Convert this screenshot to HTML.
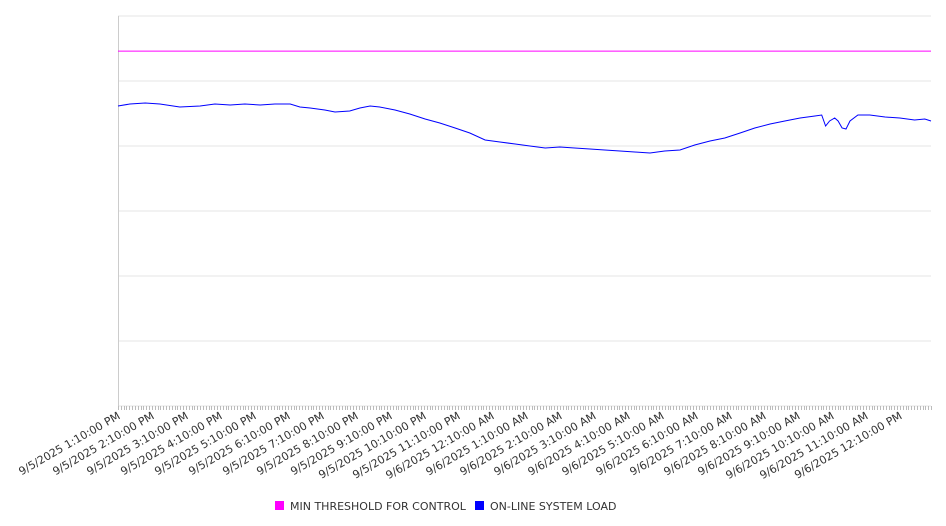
<!DOCTYPE html>
<html><head><meta charset="utf-8"><style>
body{margin:0;background:#fff;}
svg{display:block;font-family:"DejaVu Sans","Liberation Sans",sans-serif;}
</style></head><body>
<svg id="chart" width="946" height="526" xmlns="http://www.w3.org/2000/svg">
<g id="grid"></g>
<g id="xaxis"></g>
<g id="series"></g>
<g id="legend">
  <rect x="275" y="501" width="9" height="9" fill="#ff00ff"/>
  <text x="290" y="510" font-size="11" fill="#333">MIN THRESHOLD FOR CONTROL</text>
  <rect x="475" y="501" width="9" height="9" fill="#0000ff"/>
  <text x="490" y="510" font-size="11" fill="#333">ON-LINE SYSTEM LOAD</text>
</g>
</svg>
<script>
const tickLabels = ["9/5/2025 1:10:00 PM","9/5/2025 2:10:00 PM","9/5/2025 3:10:00 PM","9/5/2025 4:10:00 PM","9/5/2025 5:10:00 PM","9/5/2025 6:10:00 PM","9/5/2025 7:10:00 PM","9/5/2025 8:10:00 PM","9/5/2025 9:10:00 PM","9/5/2025 10:10:00 PM","9/5/2025 11:10:00 PM","9/6/2025 12:10:00 AM","9/6/2025 1:10:00 AM","9/6/2025 2:10:00 AM","9/6/2025 3:10:00 AM","9/6/2025 4:10:00 AM","9/6/2025 5:10:00 AM","9/6/2025 6:10:00 AM","9/6/2025 7:10:00 AM","9/6/2025 8:10:00 AM","9/6/2025 9:10:00 AM","9/6/2025 10:10:00 AM","9/6/2025 11:10:00 AM","9/6/2025 12:10:00 PM"];
const loadMinutes = [0,21,48,74,109,145,171,198,224,251,277,304,321,339,365,383,409,427,445,462,489,515,542,568,595,621,648,674,701,727,754,780,806,833,859,886,912,939,965,992,1018,1045,1071,1098,1124,1151,1177,1204,1230,1242,1249,1256,1265,1271,1278,1285,1292,1306,1327,1354,1380,1406,1424,1435];
const loadValues = [461.5,464.6,466.2,464.6,460,461.5,464.6,463.1,464.6,463.1,464.6,464.6,460,458.5,455.4,452.3,453.8,458.5,461.5,460,455.4,449.2,441.5,435.4,427.7,420,409.2,406.2,403.1,400,396.9,398.5,396.9,395.4,393.8,392.3,390.8,389.2,392.3,393.8,401.5,407.7,412.3,420,427.7,433.8,438.5,443.1,446.2,447.7,430.8,438.5,443.1,438.5,427.7,426.2,438.5,447.7,447.7,444.6,443.1,440,441.5,438.5];
const thresholdValue = 546;
const yMax = 600, xMaxMin = 1435;

const L=118,R=931,T=16,B=406;
const NS="http://www.w3.org/2000/svg";
const xs=m=>L+m*(R-L)/xMaxMin;
const ys=v=>B-v*(B-T)/yMax;
function mk(tag,attrs,parent){const e=document.createElementNS(NS,tag);for(const k in attrs)e.setAttribute(k,attrs[k]);parent.appendChild(e);return e;}
const grid=document.getElementById('grid'),xa=document.getElementById('xaxis'),ser=document.getElementById('series');
for(let v=0;v<=yMax;v+=100){
  const y=ys(v);
  const ln=mk('line',{x1:L,x2:R,y1:y,y2:y,stroke:'#e6e6e6','stroke-width':1},grid);
  
  
}
const ax=mk('line',{x1:L+0.5,x2:L+0.5,y1:T,y2:B,stroke:'#ccc'},xa);


for(let m=0;m<=xMaxMin;m+=5){
  const x=Math.round(xs(m))+0.5;
  const t=mk('line',{x1:x,x2:x,y1:B,y2:B+4,stroke:'#bbb'},xa);
  
  
}
tickLabels.forEach((s,i)=>{
  const x=xs(i*60)+3;
  const t=mk('text',{x:x,y:B+12,'font-size':11,fill:'#333','text-anchor':'end',transform:`rotate(-30 ${x} ${B+12})`},xa);
  t.textContent=s;
  
  
});
const th=mk('line',{x1:L,x2:R,y1:ys(thresholdValue),y2:ys(thresholdValue),stroke:'#ff00ff','stroke-width':1},ser);


const pts=loadMinutes.map((m,i)=>xs(m).toFixed(1)+','+ys(loadValues[i]).toFixed(1)).join(' ');
const pl=mk('polyline',{points:pts,fill:'none',stroke:'#0000ff','stroke-width':1},ser);


</script>
</body></html>
